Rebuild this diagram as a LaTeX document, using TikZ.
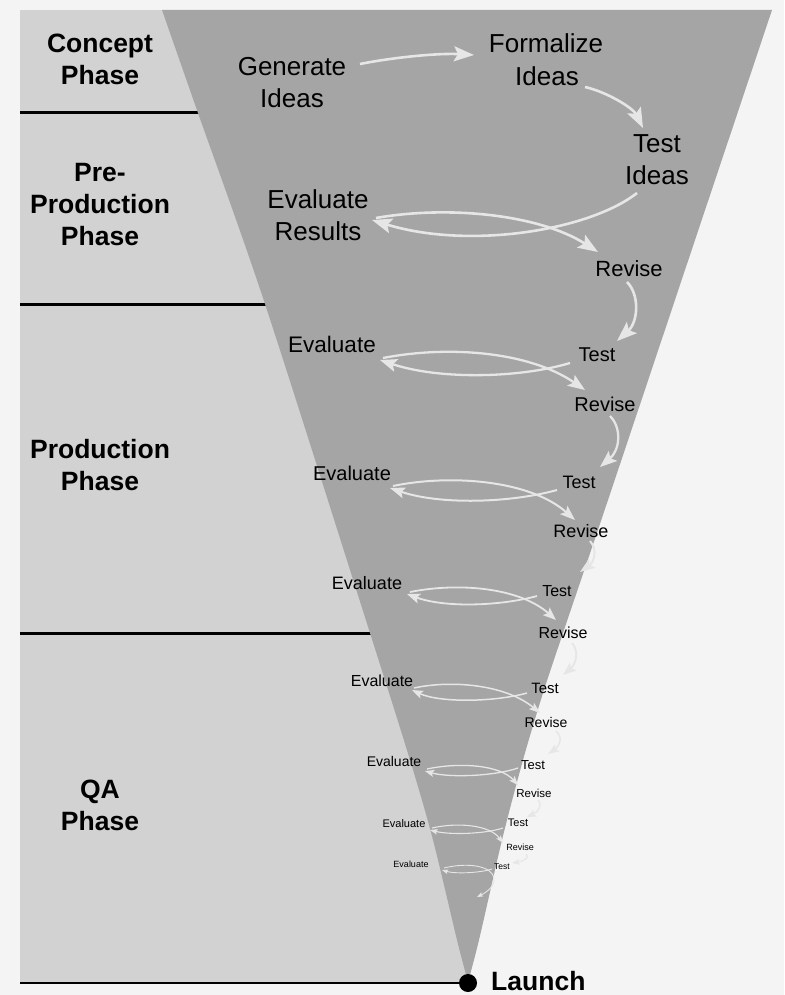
\documentclass[tikz,border=0pt]{standalone}
\usepackage{fontspec}
\setmainfont{Liberation Sans}
\usetikzlibrary{arrows.meta,calc}
\newcommand\fsz[1]{\fontsize{#1}{#1}\selectfont}
\definecolor{bgc}{HTML}{F4F4F4}
\definecolor{panelc}{HTML}{D2D2D2}
\definecolor{funnelc}{HTML}{A5A5A5}
\definecolor{arrc}{HTML}{E6E6E6}
\begin{document}
\begin{tikzpicture}[x=1pt,y=-1pt,
  lab/.style={anchor=base, inner sep=0pt, text=black},
  phase/.style={lab, font=\bfseries\fsz{26.5}},
  big/.style={lab, font=\fsz{26}},
  sep/.style={draw=black, line width=3pt},
  lp1/.style={draw=arrc, line width=2.6pt, -{Stealth[length=20pt,width=15pt,inset=4pt]}},
  lp2/.style={draw=arrc, line width=2.3pt, -{Stealth[length=17pt,width=13pt,inset=3.5pt]}},
  lp3/.style={draw=arrc, line width=2.0pt, -{Stealth[length=15pt,width=11pt,inset=3pt]}},
  lp4/.style={draw=arrc, line width=1.8pt, -{Stealth[length=13pt,width=10pt,inset=2.6pt]}},
  lp5/.style={draw=arrc, line width=1.5pt, -{Stealth[length=11pt,width=8pt,inset=2.2pt]}},
  lp6/.style={draw=arrc, line width=1.3pt, -{Stealth[length=9pt,width=7pt,inset=1.8pt]}},
  lp7/.style={draw=arrc, line width=1.1pt, -{Stealth[length=7.5pt,width=5.5pt,inset=1.5pt]}},
  lp8/.style={draw=arrc, line width=0.9pt, -{Stealth[length=6pt,width=4.5pt,inset=1.2pt]}}
]
\useasboundingbox (0,0) rectangle (784,995);
\fill[bgc] (0,0) rectangle (784,995);
\fill[panelc] (20,10) rectangle (468,983);
% separator lines
\coordinate (s1a) at (20,113); \coordinate (s1b) at (215,113);
\coordinate (s2a) at (20,304); \coordinate (s2b) at (280,304);
\coordinate (s3a) at (20,633); \coordinate (s3b) at (385,633);
\draw[sep] (s1a) -- (s1b);
\draw[sep] (s2a) -- (s2b);
\draw[sep] (s3a) -- (s3b);
% funnel
\fill[funnelc] (162,10) -- (772,10)
  -- plot[smooth,tension=0.5] coordinates {(772,10) (690,255) (608,500) (565,627) (543,693) (523,760) (502,840) (479,940) (468,982)}
  -- plot[smooth,tension=0.5] coordinates {(468,982) (457,940) (433,840) (410,760) (370,633) (265,304) (198,113) (162,10)}
  -- cycle;
% phase labels
\node[phase] (c1) at (100,53) {Concept};
\node[phase] (c2) at (100,85) {Phase};
\node[phase] (p1) at (100,182) {Pre-};
\node[phase] (p2) at (100,213) {Production};
\node[phase] (p3) at (100,245) {Phase};
\node[phase] (pr1) at (100,458) {Production};
\node[phase] (pr2) at (100,490) {Phase};
\node[phase] (q1) at (100,798) {QA};
\node[phase] (q2) at (100,830) {Phase};
% inner labels
\node[big] (gen1) at (292,76) {Generate};
\node[big] (gen2) at (292,108) {Ideas};
\node[big] (for1) at (546,53) {Formalize};
\node[big] (for2) at (547,86) {Ideas};
\node[big] (tst1) at (657,153) {Test};
\node[big] (tst2) at (657,185) {Ideas};
\node[big] (ev1) at (318,208) {Evaluate};
\node[big] (ev2) at (318,240) {Results};
\node[lab,font=\fsz{22}] (R1) at (629,276) {Revise};
\node[lab,font=\fsz{22.5}] (E2) at (332,352) {Evaluate};
\node[lab,font=\fsz{20}] (T2) at (597,361) {Test};
\node[lab,font=\fsz{20}] (R2) at (605,411) {Revise};
\node[lab,font=\fsz{20}] (E3) at (352,480) {Evaluate};
\node[lab,font=\fsz{18}] (T3) at (579,488) {Test};
\node[lab,font=\fsz{18}] (R3) at (581,537) {Revise};
\node[lab,font=\fsz{18}] (E4) at (367,589) {Evaluate};
\node[lab,font=\fsz{16}] (T4) at (557,596) {Test};
\node[lab,font=\fsz{16}] (R4) at (563,638) {Revise};
\node[lab,font=\fsz{16}] (E5) at (382,686) {Evaluate};
\node[lab,font=\fsz{15}] (T5) at (545,693) {Test};
\node[lab,font=\fsz{14}] (R5) at (546,727) {Revise};
\node[lab,font=\fsz{14}] (E6) at (394,766) {Evaluate};
\node[lab,font=\fsz{13}] (T6) at (533,769) {Test};
\node[lab,font=\fsz{11.5}] (R6) at (534,797) {Revise};
\node[lab,font=\fsz{11}] (E7) at (404,827) {Evaluate};
\node[lab,font=\fsz{11}] (T7) at (518,826) {Test};
\node[lab,font=\fsz{9}] (R7) at (520,850) {Revise};
\node[lab,font=\fsz{9}] (E8) at (411,867) {Evaluate};
\node[lab,font=\fsz{8.5}] (T8) at (502,869) {Test};
% arrows, loop 1
\draw[lp1] ($(gen1.base)+(68,-12)$) .. controls (395,57) and (440,53) .. ($(for1.base)+(-72,2)$);
\draw[lp1] ($(for2.base)+(38,1)$) .. controls (607,92) and (633,108) .. ($(tst1.base)+(-14,-25)$);
\draw[lp1] ($(tst2.base)+(-20,8)$) .. controls (590,230) and (470,250) .. ($(ev2.base)+(54,-20)$);
\draw[lp1] ($(ev2.base)+(58,-22)$) .. controls (450,205) and (540,215) .. ($(R1.base)+(-31,-24)$);
\draw[lp1] ($(R1.base)+(-2,6)$) .. controls (640,295) and (638,322) .. ($(T2.base)+(20,-20)$);
% loop 2
\draw[lp2] ($(T2.base)+(-27,2)$) .. controls (520,378) and (440,380) .. ($(E2.base)+(48,8)$);
\draw[lp2] ($(E2.base)+(51,6)$) .. controls (450,345) and (530,352) .. ($(R2.base)+(-20,-21)$);
\draw[lp2] ($(R2.base)+(5,5)$) .. controls (622,428) and (620,450) .. ($(T3.base)+(21,-21)$);
% loop 3
\draw[lp3] ($(T3.base)+(-22,2)$) .. controls (510,503) and (440,505) .. ($(E3.base)+(38,8)$);
\draw[lp3] ($(E3.base)+(41,6)$) .. controls (450,474) and (530,480) .. ($(R3.base)+(-6,-17)$);
\draw[lp3] ($(R3.base)+(9,4)$) .. controls (598,550) and (594,562) .. ($(T4.base)+(23,-24)$);
% loop 4
\draw[lp4] ($(T4.base)+(-20,0)$) .. controls (500,606) and (445,608) .. ($(E4.base)+(40,5)$);
\draw[lp4] ($(E4.base)+(43,3)$) .. controls (460,582) and (520,588) .. ($(R4.base)+(-7,-18)$);
\draw[lp4] ($(R4.base)+(9,5)$) .. controls (580,652) and (575,665) .. ($(T5.base)+(18,-18)$);
% loop 5
\draw[lp5] ($(T5.base)+(-18,0)$) .. controls (495,702) and (440,703) .. ($(E5.base)+(30,4)$);
\draw[lp5] ($(E5.base)+(32,2)$) .. controls (450,680) and (505,684) .. ($(R5.base)+(-6,-14)$);
\draw[lp5] ($(R5.base)+(10,4)$) .. controls (563,737) and (560,746) .. ($(T6.base)+(15,-15)$);
% loop 6
\draw[lp6] ($(T6.base)+(-15,-1)$) .. controls (495,776) and (450,778) .. ($(E6.base)+(31,5)$);
\draw[lp6] ($(E6.base)+(33,3)$) .. controls (460,762) and (500,765) .. ($(R6.base)+(-16,-12)$);
\draw[lp6] ($(R6.base)+(4,3)$) .. controls (543,805) and (538,812) .. ($(T7.base)+(9,-9)$);
% loop 7
\draw[lp7] ($(T7.base)+(-15,2)$) .. controls (485,834) and (450,835) .. ($(E7.base)+(26,3)$);
\draw[lp7] ($(E7.base)+(28,1)$) .. controls (458,822) and (490,825) .. ($(R7.base)+(-17,-7)$);
\draw[lp7] ($(R7.base)+(6,4)$) .. controls (530,857) and (525,861) .. ($(T8.base)+(10,-6)$);
% loop 8
\coordinate (fin) at (477,897);
\draw[lp8] ($(T8.base)+(-10,0)$) .. controls (480,873) and (455,874) .. ($(E8.base)+(31,3)$);
\draw[lp8] ($(E8.base)+(33,1)$) .. controls (468,862) and (492,866) .. (494,878) .. controls (495,886) and (487,892) .. (fin);
% launch
\coordinate (bl) at (20,983);
\node[circle, fill=black, minimum size=18pt, inner sep=0pt] (dot) at (468,983) {};
\draw[sep, line width=2.6pt] (bl) -- (dot.west);
\node[phase, anchor=base west] (launch) at (491,990) {Launch};
\end{tikzpicture}
\end{document}
